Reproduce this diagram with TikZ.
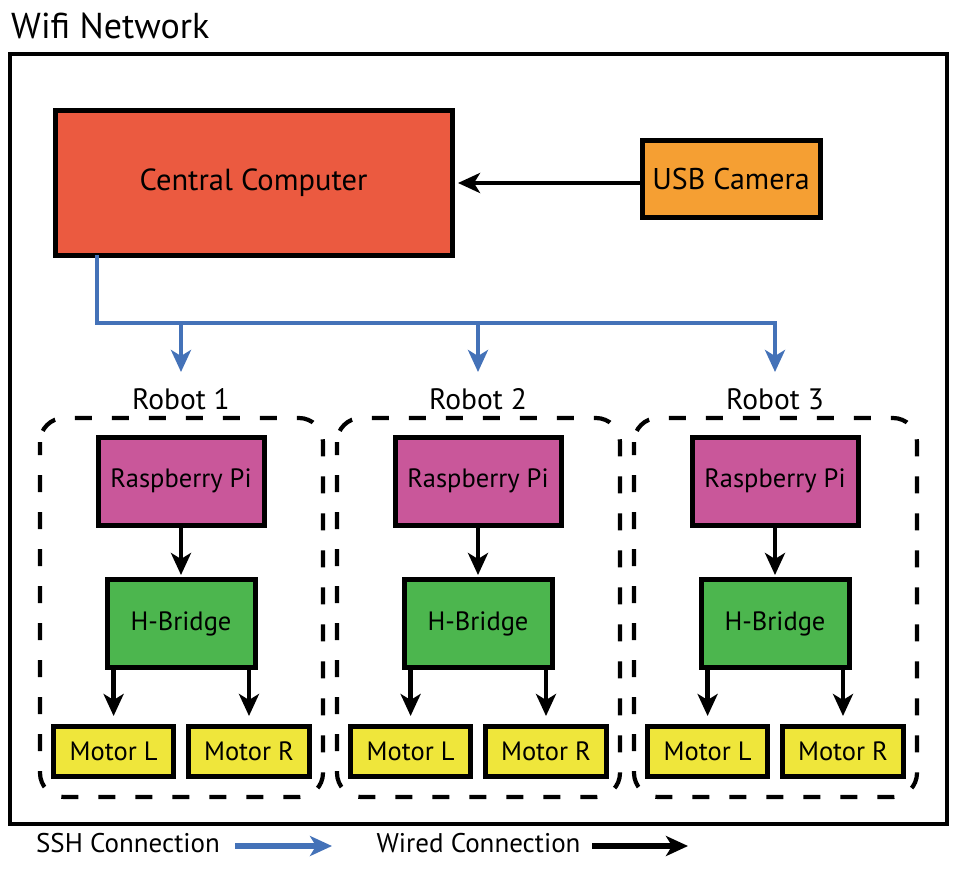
\documentclass[tikz,border=0pt]{standalone}
\usepackage{fontspec}
\setmainfont{PT Sans}
\usetikzlibrary{arrows.meta}
\definecolor{ccred}{RGB}{235,90,64}
\definecolor{camorange}{RGB}{245,159,51}
\definecolor{rpimag}{RGB}{201,87,154}
\definecolor{hbgreen}{RGB}{76,182,78}
\definecolor{motyellow}{RGB}{239,230,59}
\definecolor{sshblue}{RGB}{68,114,184}
\begin{document}
\begin{tikzpicture}[x=1pt,y=-1pt,
  box/.style={draw=black,line width=5pt,inner sep=0pt,outer sep=0pt,anchor=center},
  fs/.style={font=\fontsize{#1}{#1}\selectfont},
  wired/.style={draw=black,line width=4.5pt,-{Stealth[length=22pt,width=20pt,inset=6pt]}},
  ssh/.style={draw=sshblue,line width=4pt},
  ssharrow/.style={ssh,-{Stealth[length=22pt,width=20pt,inset=6pt]}},
  robotbox/.style={draw=black,line width=4.2pt,dash pattern=on 17pt off 20pt,dash phase=4pt,rounded corners=24pt}]
\useasboundingbox (0,0) rectangle (960,870);
% title and frame
\node[fs=36,anchor=west,inner sep=0pt] (title) at (11,26) {Wifi Network};
\draw[line width=4pt] (10,54) rectangle (947,824);
\coordinate (frame) at (10,54);
% central computer and camera
\node[box,fill=ccred,minimum width=397pt,minimum height=145pt,fs=30.5] (cc) at (253.5,182.5) {Central Computer};
\node[box,fill=camorange,minimum width=178pt,minimum height=77pt,fs=30] (cam) at (731,178.5) {USB Camera};
\draw[wired,shorten >=6pt] (cam.west |- 0,183) -- (cc.east |- 0,183);
% bus
\coordinate (busL) at (97,323);
\coordinate (busR) at (775,323);
\draw[ssh,line join=miter] (cc.south -| busL) -- (busL) -- (busR) -- ++(0,2);
% robots
\foreach \dx/\n in {0/1,297/2,594/3}{
  \node[fs=29.5,inner sep=0pt] (rlabel\n) at (181+\dx,399) {Robot \n};
  \coordinate (in\n) at (181+\dx,372);
  \draw[ssharrow] (busL -| in\n) -- (in\n);
  \draw[robotbox] (40+\dx,418) rectangle (323+\dx,797);
  \coordinate (robot\n) at (181.5+\dx,607.5);
  \node[box,fill=rpimag,minimum width=166pt,minimum height=88pt,fs=26.5] (rpi\n) at (181+\dx,481) {Raspberry Pi};
  \node[box,fill=hbgreen,minimum width=148pt,minimum height=88pt,fs=26.5] (hb\n) at (181+\dx,623.5) {H-Bridge};
  \node[box,fill=motyellow,minimum width=120pt,minimum height=50pt,fs=26.5] (ml\n) at (113.6+\dx,751.5) {Motor L};
  \node[box,fill=motyellow,minimum width=121pt,minimum height=50pt,fs=26.5] (mr\n) at (249+\dx,751.5) {Motor R};
  \draw[wired,shorten >=4.5pt] (rpi\n.south) -- (hb\n.north);
  \draw[wired,shorten >=10.5pt] (hb\n.south -| ml\n.north) -- (ml\n.north);
  \draw[wired,shorten >=10.5pt] (hb\n.south -| mr\n.north) -- (mr\n.north);
}
% legend
\node[fs=27,inner sep=0pt] (sshlbl) at (128,843) {SSH Connection};
\coordinate (sshA) at (235,846);
\coordinate (sshB) at (332,846);
\draw[ssharrow,line width=6pt] (sshA) -- (sshB);
\node[fs=27,inner sep=0pt] (wirlbl) at (478.5,843) {Wired Connection};
\coordinate (wirA) at (592,846);
\coordinate (wirB) at (688,846);
\draw[wired,line width=5.5pt] (wirA) -- (wirB);
\end{tikzpicture}
\end{document}
